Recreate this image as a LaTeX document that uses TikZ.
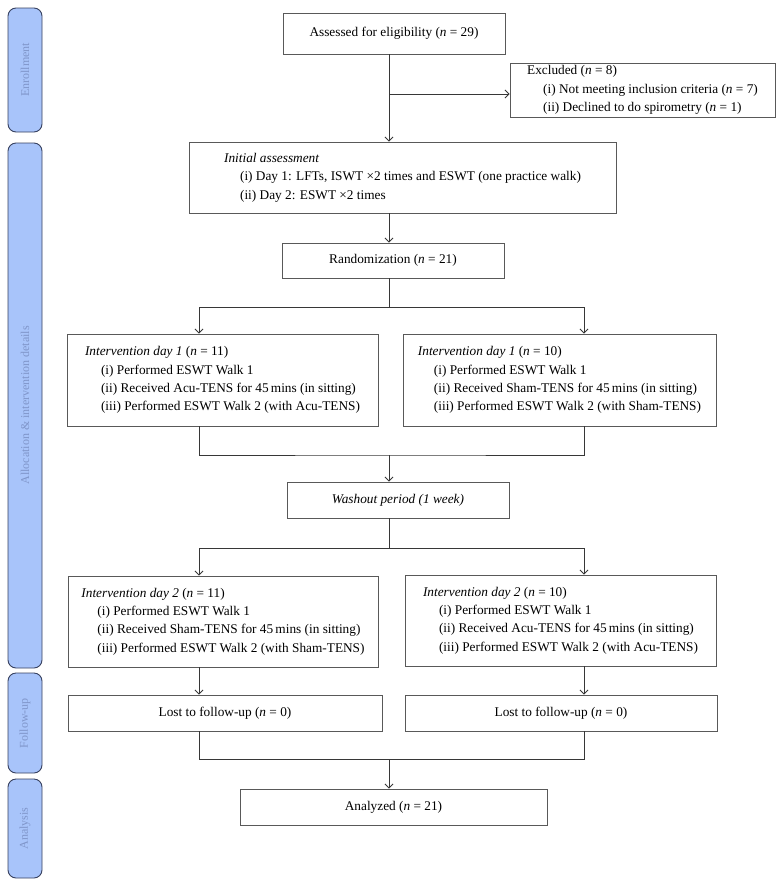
\documentclass[tikz,border=0pt]{standalone}
\usepackage{fontspec}
\setmainfont{Liberation Serif}
\usetikzlibrary{arrows.meta}
\definecolor{barfill}{RGB}{168,196,250}
\definecolor{barline}{RGB}{55,65,95}
\definecolor{bartext}{RGB}{128,150,202}
\definecolor{linegray}{RGB}{55,55,55}
\tikzstyle{box}=[draw=black!65, line width=0.9pt, align=left, inner sep=0pt, font=\fontsize{13.3}{18.4}\selectfont]
\tikzstyle{phase}=[draw=barline, fill=barfill, text=bartext, rounded corners=8pt, line width=0.9pt, rotate=90, minimum height=34, font=\fontsize{12}{15}\selectfont]
\tikzstyle{link}=[draw=linegray, line width=0.8pt]
\tikzset{>={Straight Barb[length=4pt,width=8pt]}}
\newcommand{\nn}{\textit{n}}
\newcommand{\itm}[1]{\hspace*{16pt}#1}

\begin{document}
\begin{tikzpicture}[x=1pt, y=-1pt]
      \useasboundingbox (0,0) rectangle (783,887);

      % phase bars on the left
      \draw node at (25,70) [phase, minimum width=124] (enrolbar) {Enrollment};
      \draw node at (25,405.5) [phase, minimum width=525] (allocbar) {Allocation \& intervention details};
      \draw node at (25,723) [phase, minimum width=100] (followbar) {Follow-up};
      \draw node at (25,828.5) [phase, minimum width=99] (analysisbar) {Analysis};

      % boxes
      \draw node at (394,33.5) [box, minimum width=222, minimum height=41] (assess) {Assessed for eligibility (\nn~=~29)};
      \draw node at (642.5,90) [box, minimum width=265, minimum height=54] (excl) {Excluded (\nn~=~8)\\
        \itm{(i) Not meeting inclusion criteria (\nn~=~7)}\\
        \itm{(ii) Declined to do spirometry (\nn~=~1)}};
      \draw node at (402.5,177.5) [box, minimum width=427, minimum height=71] (init) {\textit{Initial assessment}\\
        \itm{(i) Day 1: LFTs, ISWT ×2 times and ESWT (one practice walk)}\\
        \itm{(ii) Day 2: ESWT ×2 times}};
      \draw node at (393,260.5) [box, minimum width=222, minimum height=35] (rand) {Randomization (\nn~=~21)};
      \draw node at (222.5,380) [box, minimum width=311, minimum height=92] (day1a) {\textit{Intervention day 1} (\nn~=~11)\\
        \itm{(i) Performed ESWT Walk 1}\\
        \itm{(ii) Received Acu-TENS for 45\,mins (in sitting)}\\
        \itm{(iii) Performed ESWT Walk 2 (with Acu-TENS)}};
      \draw node at (559.5,380) [box, minimum width=313, minimum height=92] (day1b) {\textit{Intervention day 1} (\nn~=~10)\\
        \itm{(i) Performed ESWT Walk 1}\\
        \itm{(ii) Received Sham-TENS for 45\,mins (in sitting)}\\
        \itm{(iii) Performed ESWT Walk 2 (with Sham-TENS)}};
      \draw node at (398,500) [box, minimum width=222, minimum height=36] (wash) {\textit{Washout period (1 week)}};
      \draw node at (223,621.5) [box, minimum width=310, minimum height=91] (day2a) {\textit{Intervention day 2} (\nn~=~11)\\
        \itm{(i) Performed ESWT Walk 1}\\
        \itm{(ii) Received Sham-TENS for 45\,mins (in sitting)}\\
        \itm{(iii) Performed ESWT Walk 2 (with Sham-TENS)}};
      \draw node at (560.5,620.5) [box, minimum width=311, minimum height=91] (day2b) {\textit{Intervention day 2} (\nn~=~10)\\
        \itm{(i) Performed ESWT Walk 1}\\
        \itm{(ii) Received Acu-TENS for 45\,mins (in sitting)}\\
        \itm{(iii) Performed ESWT Walk 2 (with Acu-TENS)}};
      \draw node at (225,713) [box, minimum width=314, minimum height=36] (losta) {Lost to follow-up (\nn~=~0)};
      \draw node at (561,713) [box, minimum width=312, minimum height=36] (lostb) {Lost to follow-up (\nn~=~0)};
      \draw node at (393.5,807) [box, minimum width=307, minimum height=36] (analysed) {Analyzed (\nn~=~21)};

      % connector guides
      \coordinate (axis) at (389,0);
      \coordinate (lft) at (199,0);
      \coordinate (rgt) at (584,0);
      \coordinate (branch) at (389,94);
      \coordinate (split1) at (389,307);
      \coordinate (join1) at (389,455);
      \coordinate (split2) at (389,548);
      \coordinate (join2) at (389,759);

      \draw [link,->] (assess.south -| axis) to (init.north -| axis);
      \draw [link,->] (branch) to (branch -| excl.west);
      \draw [link,->] (init.south -| axis) to (rand.north -| axis);
      \draw [link] (rand.south -| axis) to (split1);
      \draw [link,->] (split1) -| (day1a.north -| lft);
      \draw [link,->] (split1) -| (day1b.north -| rgt);
      \draw [link] (day1a.south -| lft) |- (join1) -| (day1b.south -| rgt);
      \draw [link,->] (join1) to (wash.north -| axis);
      \draw [link] (wash.south -| axis) to (split2);
      \draw [link,->] (split2) -| (day2a.north -| lft);
      \draw [link,->] (split2) -| (day2b.north -| rgt);
      \draw [link,->] (day2a.south -| lft) to (losta.north -| lft);
      \draw [link,->] (day2b.south -| rgt) to (lostb.north -| rgt);
      \draw [link] (losta.south -| lft) |- (join2) -| (lostb.south -| rgt);
      \draw [link,->] (join2) to (analysed.north -| axis);
    \end{tikzpicture}
\end{document}
